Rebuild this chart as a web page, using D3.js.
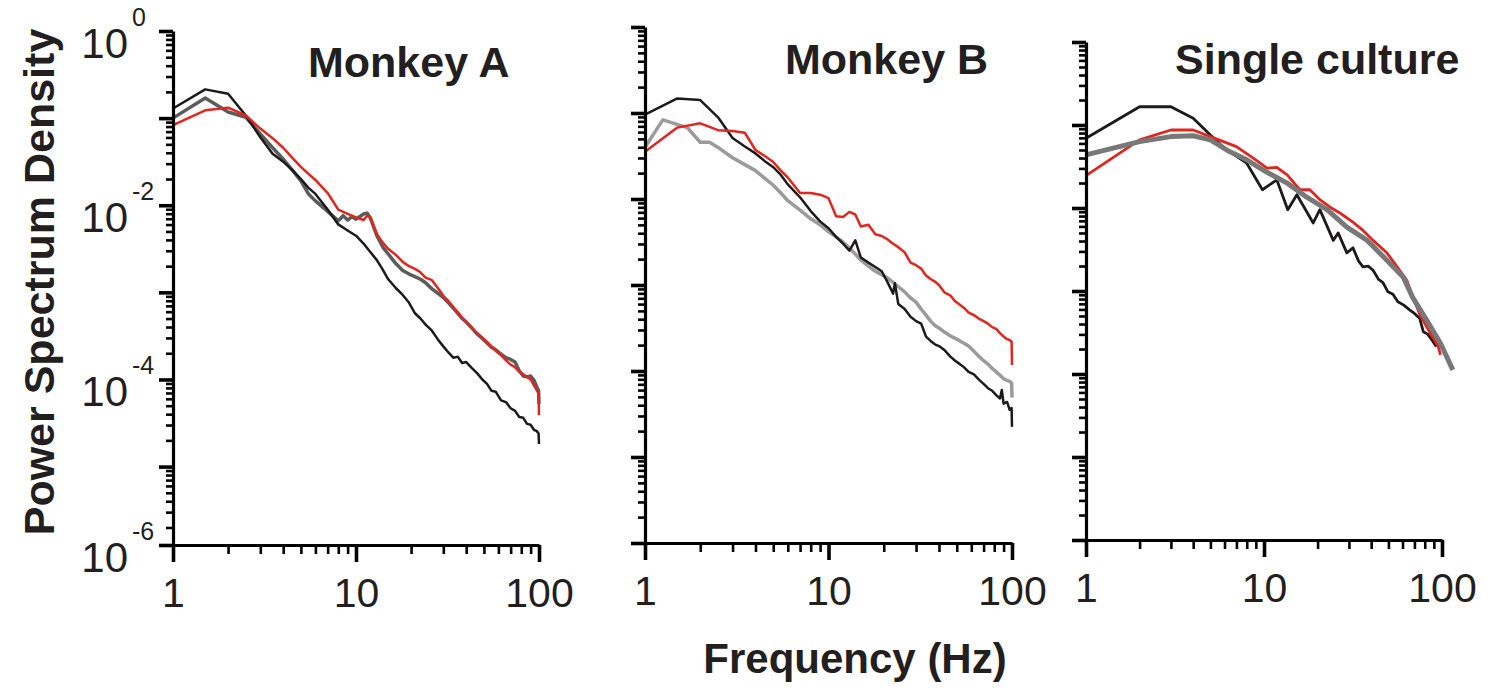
<!DOCTYPE html>
<html>
<head>
<meta charset="utf-8">
<script src="https://cdn.jsdelivr.net/npm/d3@7/dist/d3.min.js"></script>
<style>
    body{margin:0;background:#ffffff;}
    svg{display:block;font-family:"Liberation Sans",Arial,sans-serif;}
</style>
</head>
<body>
<div id="chart"></div>
<script>
/*
    power spectrum density of three recordings, log-log, three panels
    values are [frequency (Hz), log10 of the power]
 */

// 0.data
var panelTitles=["Monkey A","Monkey B","Single culture"];
var xTickLabels=["1","10","100"];
var yTickExps=["0","-2","-4","-6"];
var yLabel="Power Spectrum Density";
var xLabel="Frequency (Hz)";

// Monkey A
var monkeyA_black=[[1,-0.89],[1.5,-0.67],[2,-0.72],[2.5,-0.97],[3,-1.22],[3.5,-1.41],[4,-1.50],[4.5,-1.60],[5,-1.70],[5.5,-1.80],
    [6,-1.87],[7,-2.05],[8,-2.22],[9,-2.29],[10,-2.35],[11,-2.44],[12,-2.54],[13,-2.63],[14,-2.74],[15,-2.85],
    [16.5,-2.95],[18,-3.03],[19.5,-3.12],[21,-3.24],[22.5,-3.30],[24,-3.37],[26,-3.44],[28,-3.54],[30,-3.62],[32,-3.69],
    [34,-3.75],[36,-3.74],[38,-3.81],[40,-3.80],[43,-3.87],[46,-3.93],[49,-4.00],[52,-4.05],[55,-4.13],[58,-4.14],
    [62,-4.24],[66,-4.26],[70,-4.33],[74,-4.36],[78,-4.43],[82,-4.44],[86,-4.51],[90,-4.52],[94,-4.58],[97,-4.59],
    [99.5,-4.62],[100,-4.74]];
var monkeyA_gray=[[1,-1.00],[1.5,-0.77],[2,-0.93],[2.5,-0.99],[3,-1.18],[3.5,-1.34],[4,-1.47],[4.5,-1.60],[5,-1.72],[5.5,-1.87],
    [6,-1.95],[7,-2.07],[8,-2.18],[8.5,-2.12],[9,-2.17],[9.5,-2.13],[10,-2.16],[11,-2.10],[11.5,-2.09],[12,-2.15],
    [13,-2.35],[14,-2.48],[15,-2.56],[16.5,-2.67],[18,-2.75],[19.5,-2.79],[21,-2.82],[22.5,-2.85],[24,-2.89],[26,-2.96],
    [28,-3.01],[30,-3.06],[32,-3.12],[34,-3.18],[36,-3.24],[38,-3.30],[40,-3.34],[43,-3.41],[46,-3.48],[49,-3.53],
    [52,-3.58],[55,-3.63],[58,-3.66],[62,-3.71],[66,-3.75],[70,-3.77],[74,-3.80],[78,-3.90],[82,-3.96],[86,-3.97],
    [90,-3.96],[94,-4.01],[97,-4.08],[99.5,-4.13],[100,-4.28]];
var monkeyA_red=[[1,-1.08],[1.5,-0.91],[2,-0.88],[2.5,-0.97],[3,-1.12],[3.5,-1.23],[4,-1.34],[4.5,-1.46],[5,-1.56],[5.5,-1.64],
    [6,-1.71],[7,-1.86],[8,-2.05],[9,-2.10],[10,-2.14],[11,-2.17],[11.5,-2.12],[12,-2.14],[13,-2.33],[14,-2.43],
    [15,-2.50],[16.5,-2.57],[18,-2.65],[19.5,-2.70],[21,-2.73],[22.5,-2.77],[24,-2.83],[26,-2.86],[28,-2.95],[30,-3.04],
    [32,-3.10],[34,-3.17],[36,-3.23],[38,-3.29],[40,-3.34],[43,-3.41],[46,-3.47],[49,-3.52],[52,-3.57],[55,-3.62],
    [58,-3.67],[62,-3.72],[66,-3.78],[70,-3.83],[74,-3.86],[78,-3.91],[82,-3.94],[86,-3.97],[90,-4.00],[94,-4.07],
    [97,-4.12],[99.5,-4.16],[100,-4.41]];

// Monkey B
var monkeyB_black=[[1,-1.02],[1.5,-0.83],[2,-0.85],[2.5,-1.05],[3,-1.29],[3.5,-1.39],[4,-1.47],[4.5,-1.56],[5,-1.63],[5.5,-1.72],
    [6,-1.83],[7,-1.98],[8,-2.14],[9,-2.26],[10,-2.34],[11,-2.44],[12,-2.52],[13,-2.60],[14,-2.48],[15,-2.68],
    [16.5,-2.74],[18,-2.79],[19.5,-2.84],[21,-2.97],[22.5,-3.10],[23,-2.98],[24,-3.22],[26,-3.28],[28,-3.37],[30,-3.42],
    [32,-3.45],[34,-3.60],[36,-3.65],[38,-3.69],[40,-3.71],[43,-3.76],[46,-3.83],[49,-3.88],[52,-3.92],[55,-3.96],
    [58,-4.01],[62,-4.04],[66,-4.10],[70,-4.15],[74,-4.20],[78,-4.23],[82,-4.28],[86,-4.32],[88,-4.22],[90,-4.38],
    [94,-4.36],[97,-4.45],[99.5,-4.43],[100,-4.65]];
var monkeyB_gray=[[1,-1.40],[1.25,-1.08],[1.7,-1.17],[2,-1.34],[2.25,-1.34],[2.5,-1.40],[3,-1.52],[3.5,-1.60],[4,-1.67],[4.5,-1.76],
    [5,-1.84],[5.5,-1.93],[6,-2.02],[7,-2.13],[8,-2.23],[9,-2.30],[10,-2.38],[11,-2.44],[12,-2.50],[13,-2.57],
    [14,-2.64],[15,-2.71],[16.5,-2.78],[18,-2.84],[19.5,-2.88],[21,-2.92],[22.5,-2.97],[24,-3.02],[26,-3.08],[28,-3.15],
    [30,-3.20],[32,-3.28],[34,-3.35],[36,-3.42],[38,-3.47],[40,-3.50],[43,-3.55],[46,-3.59],[49,-3.62],[52,-3.65],
    [55,-3.68],[58,-3.71],[62,-3.77],[66,-3.83],[70,-3.88],[74,-3.92],[78,-3.97],[82,-4.01],[86,-4.05],[90,-4.09],
    [94,-4.11],[97,-4.12],[99.5,-4.14],[100,-4.31]];
var monkeyB_red=[[1,-1.45],[1.5,-1.17],[2,-1.12],[2.5,-1.20],[3,-1.21],[3.5,-1.23],[4,-1.43],[4.5,-1.50],[5,-1.57],[5.5,-1.67],
    [6,-1.75],[7,-1.93],[8,-1.93],[9,-1.95],[10,-1.99],[11,-2.20],[12,-2.21],[13,-2.15],[14,-2.18],[15,-2.32],
    [16.5,-2.30],[18,-2.41],[19.5,-2.43],[21,-2.47],[22.5,-2.52],[24,-2.56],[26,-2.62],[28,-2.74],[30,-2.77],[32,-2.81],
    [34,-2.89],[36,-2.93],[38,-2.96],[40,-3.00],[43,-3.09],[46,-3.12],[49,-3.19],[52,-3.23],[55,-3.27],[58,-3.32],
    [62,-3.35],[66,-3.39],[70,-3.42],[74,-3.45],[78,-3.49],[82,-3.51],[86,-3.56],[90,-3.60],[94,-3.63],[97,-3.64],
    [99.5,-3.66],[100,-3.93]];

// Single culture
var culture_black=[[1,-1.16],[2,-0.78],[3,-0.78],[4,-0.92],[5,-1.12],[6,-1.28],[8,-1.46],[9.8,-1.78],[11.8,-1.66],[13.6,-2.02],
    [15.3,-1.84],[18.9,-2.18],[20.6,-2.02],[24.5,-2.39],[26.1,-2.30],[29.2,-2.54],[31.6,-2.48],[34,-2.64],[36,-2.71],[38.5,-2.70],
    [41,-2.75],[44,-2.86],[46.6,-2.90],[49.7,-3.01],[53,-3.04],[56.5,-3.13],[61,-3.17],[66,-3.23],[70,-3.27],[75,-3.33],
    [78.5,-3.49],[83,-3.52],[87.8,-3.59],[93,-3.67]];
var culture_red=[[1,-1.61],[2,-1.18],[3,-1.06],[4,-1.06],[5,-1.14],[7,-1.26],[8.7,-1.40],[10.4,-1.52],[11.8,-1.51],[13.5,-1.60],
    [15.9,-1.78],[18.1,-1.78],[20.6,-1.90],[23.5,-1.99],[26.7,-2.06],[31.6,-2.17],[36,-2.27],[41,-2.39],[49,-2.54],[56,-2.71],
    [63.4,-2.87],[68,-3.05],[75,-3.28],[86,-3.51],[95,-3.66],[98,-3.77]];
var culture_gray=[[1,-1.36],[2,-1.20],[3,-1.14],[4,-1.13],[5,-1.18],[6.4,-1.32],[8,-1.42],[10.4,-1.57],[13.5,-1.70],[17.4,-1.87],
    [22.6,-2.02],[29.2,-2.23],[38,-2.39],[49,-2.63],[60.5,-2.83],[68.5,-3.08],[82,-3.35],[98,-3.63],[115,-3.95]];


// 0.1.size and style of each panel
var colorBlack="#1e1a1a", colorRed="#e0261f";
var panels=[
    {title:panelTitles[0], titleX:308, titleY:77, xRange:[173,539], yRange:[545,31], yMin:-5.9, yLabels:true,
        series:[{data:monkeyA_gray,color:"#5c5c5c",width:3.5},
                {data:monkeyA_black,color:colorBlack,width:2.5},
                {data:monkeyA_red,color:colorRed,width:2.5}]},
    {title:panelTitles[1], titleX:785, titleY:74, xRange:[645,1012], yRange:[543,27], yMin:-6, yLabels:false,
        series:[{data:monkeyB_gray,color:"#9b9b9b",width:3.5},
                {data:monkeyB_black,color:colorBlack,width:2.5},
                {data:monkeyB_red,color:colorRed,width:2.5}]},
    {title:panelTitles[2], titleX:1175, titleY:74, xRange:[1086,1442], yRange:[540,42], yMin:-6, yLabels:false,
        series:[{data:culture_black,color:colorBlack,width:2.8},
                {data:culture_red,color:colorRed,width:2.8},
                {data:culture_gray,color:"#787878",width:5}]}
];

var svgW=1494, svgH=692;

// 1.Add DOM elements
var svg=d3.select("#chart").append("svg").attr("width",svgW).attr("height",svgH);
svg.append("rect").attr("width",svgW).attr("height",svgH).attr("fill","#ffffff");

// tick values
var xMajor=[1,10,100];
var xMinor=[];
[1,10].forEach(function(dec){
    for(var m=2;m<10;m++) xMinor.push(m*dec);
});
var yMajor=[];
yTickExps.forEach(function(){});
for(var e=0;e>=-6;e--) yMajor.push(Math.pow(10,e));

panels.forEach(function(p){
    var x=d3.scaleLog().domain([1,100]).range(p.xRange);
    var y=d3.scaleLog().domain([Math.pow(10,p.yMin),1]).range(p.yRange).clamp(true);

    var yMinor=[];
    for(var k=-6;k<0;k++){
        for(var m=2;m<10;m++){
            var v=m*Math.pow(10,k);
            if(v>=y.domain()[0]) yMinor.push(v);
        }
    }

    var g=svg.append("g");

    // curves
    var line=d3.line()
        .x(function(d){return x(d[0]);})
        .y(function(d){return y(Math.pow(10,d[1]));});

    p.series.forEach(function(s){
        g.append("path")
            .datum(s.data)
            .attr("d",line)
            .attr("fill","none")
            .attr("stroke",s.color)
            .attr("stroke-width",s.width)
            .attr("stroke-linejoin","round");
    });

    // y axis, minor then major
    var yMinorAxis=g.append("g")
        .attr("transform","translate("+p.xRange[0]+",0)")
        .call(d3.axisLeft(y).tickValues(yMinor).tickSize(7).tickSizeOuter(0).tickFormat(""));
    yMinorAxis.select(".domain").remove();
    yMinorAxis.selectAll("line").attr("stroke","#000").attr("stroke-width",2.6);

    var yMajorAxis=g.append("g")
        .attr("transform","translate("+p.xRange[0]+",0)")
        .call(d3.axisLeft(y).tickValues(yMajor).tickSize(14).tickSizeOuter(0).tickFormat(""));
    yMajorAxis.select(".domain").attr("stroke","#000").attr("stroke-width",3.2);
    yMajorAxis.selectAll("line").attr("stroke","#000").attr("stroke-width",3.6);

    // x axis
    var xMinorAxis=g.append("g")
        .attr("transform","translate(0,"+p.yRange[0]+")")
        .call(d3.axisBottom(x).tickValues(xMinor).tickSize(9).tickSizeOuter(0).tickFormat(""));
    xMinorAxis.select(".domain").remove();
    xMinorAxis.selectAll("line").attr("stroke","#000").attr("stroke-width",2.6);

    var xMajorAxis=g.append("g")
        .attr("transform","translate(0,"+p.yRange[0]+")")
        .call(d3.axisBottom(x).tickValues(xMajor).tickSize(17).tickSizeOuter(0).tickPadding(16)
            .tickFormat(function(d,i){return xTickLabels[i];}));
    xMajorAxis.select(".domain").attr("stroke","#000").attr("stroke-width",3.2);
    xMajorAxis.selectAll("line").attr("stroke","#000").attr("stroke-width",3.6);
    xMajorAxis.selectAll("text")
        .attr("fill","#231f20")
        .style("font-family","'Liberation Sans',Arial,sans-serif")
        .style("font-size","41px");

    // y labels as 10 with exponent
    if(p.yLabels){
        yTickExps.forEach(function(ex){
            var ty=y(Math.pow(10,+ex));
            g.append("text")
                .attr("x",p.xRange[0]-45)
                .attr("y",ty+27)
                .attr("text-anchor","end")
                .attr("fill","#231f20")
                .style("font-size","42px")
                .text("10");
            g.append("text")
                .attr("x",p.xRange[0]-41)
                .attr("y",ty-5)
                .attr("fill","#231f20")
                .style("font-size","25px")
                .text(ex);
        });
    }

    // panel title
    g.append("text")
        .attr("x",p.titleX)
        .attr("y",p.titleY)
        .attr("fill","#231f20")
        .style("font-size","43px")
        .style("font-weight","bold")
        .text(p.title);
});

// 2.axis titles
svg.append("text")
    .attr("transform","translate(54,282) rotate(-90)")
    .attr("text-anchor","middle")
    .attr("fill","#231f20")
    .style("font-size","43px")
    .style("font-weight","bold")
    .text(yLabel);

svg.append("text")
    .attr("x",855)
    .attr("y",673)
    .attr("text-anchor","middle")
    .attr("fill","#231f20")
    .style("font-size","42px")
    .style("font-weight","bold")
    .text(xLabel);
</script>
</body>
</html>
